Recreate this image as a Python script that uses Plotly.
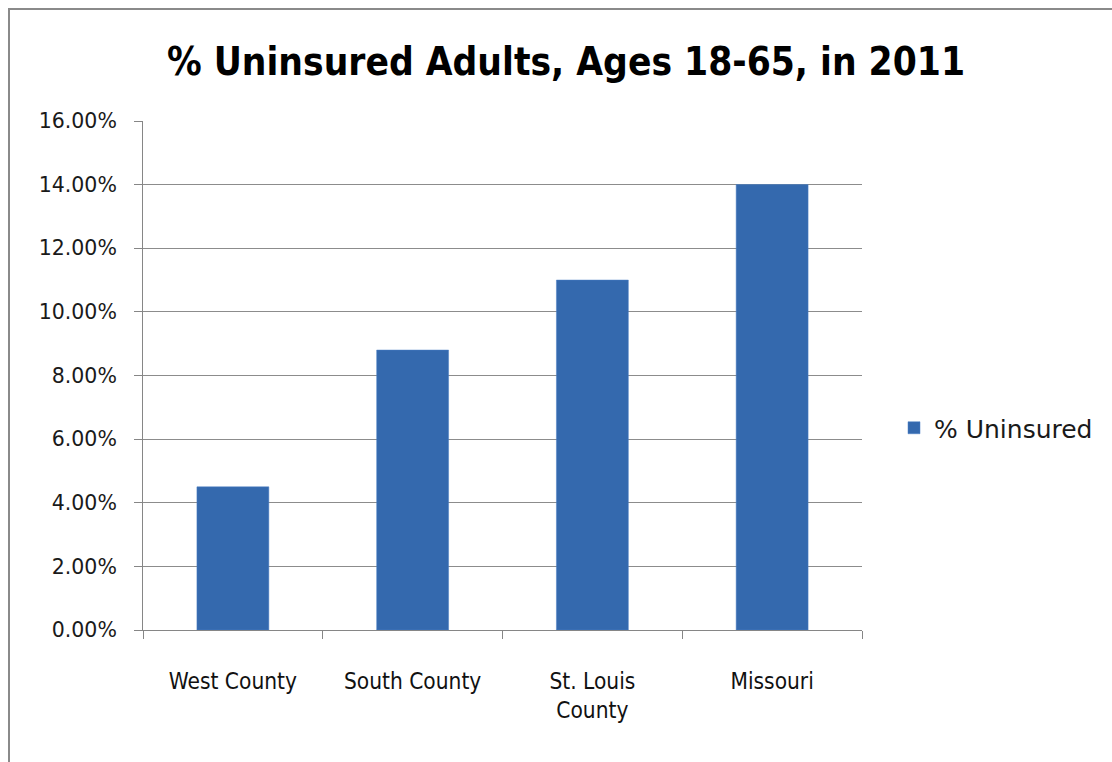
import plotly.graph_objects as go

categories = ["West County", "South County", "St. Louis<br>County", "Missouri"]
uninsured = [0.045, 0.088, 0.110, 0.140]
series_name = "% Uninsured"
title_text = "% Uninsured Adults, Ages 18-65, in 2011"

W, H = 1112, 762
L, R, T, B = 143, 250, 121, 132
pw, ph = W - L - R, H - T - B

def px_x(x):
    return (x - L) / pw

def px_y(y):
    return (H - B - y) / ph

NARROW = "Liberation Sans Narrow, Arial Narrow, DejaVu Sans Condensed, sans-serif"

fig = go.Figure()
fig.add_trace(go.Bar(
    x=categories, y=uninsured, name=series_name,
    marker=dict(color="#3469AE", line=dict(color="#4A7FC4", width=0.5)),
    showlegend=True,
))

fig.update_layout(
    width=W, height=H,
    margin=dict(l=L, r=R, t=T, b=B),
    paper_bgcolor="white", plot_bgcolor="white",
    bargap=0.6,
    title=dict(text=title_text, x=566 / W, xref="container", xanchor="center",
               y=1 - 62 / H, yref="container", yanchor="middle",
               font=dict(family=NARROW, size=38.5, color="black", weight="bold")),
    legend=dict(x=px_x(894), y=px_y(428), xanchor="left", yanchor="middle",
                font=dict(family="DejaVu Sans", size=25, color="#1a1a1a"),
                bgcolor="rgba(0,0,0,0)"),
    font=dict(family="DejaVu Sans", color="#1a1a1a"),
    shapes=[dict(type="rect", xref="paper", yref="paper",
                 x0=px_x(9), x1=px_x(1130), y0=px_y(780), y1=px_y(9),
                 line=dict(color="#8a8a8a", width=2), fillcolor="rgba(0,0,0,0)",
                 layer="below")],
)

fig.update_xaxes(
    showline=True, linecolor="#868686", linewidth=1,
    ticks="outside", tickson="boundaries", ticklen=8, tickcolor="#868686",
    tickfont=dict(family=NARROW, size=22.5, color="#111"),
    ticklabelstandoff=31,
    showgrid=False,
)
fig.update_yaxes(
    range=[0, 0.16], dtick=0.02, tickformat=".2%",
    showgrid=True, gridcolor="#8c8c8c", gridwidth=1,
    showline=True, linecolor="#868686", linewidth=1,
    ticks="outside", ticklen=8, tickcolor="#868686",
    tickfont=dict(family="DejaVu Sans", size=20.5, color="#1a1a1a"),
    ticklabelstandoff=13,
    zeroline=False,
)

fig.write_html("out.html")
